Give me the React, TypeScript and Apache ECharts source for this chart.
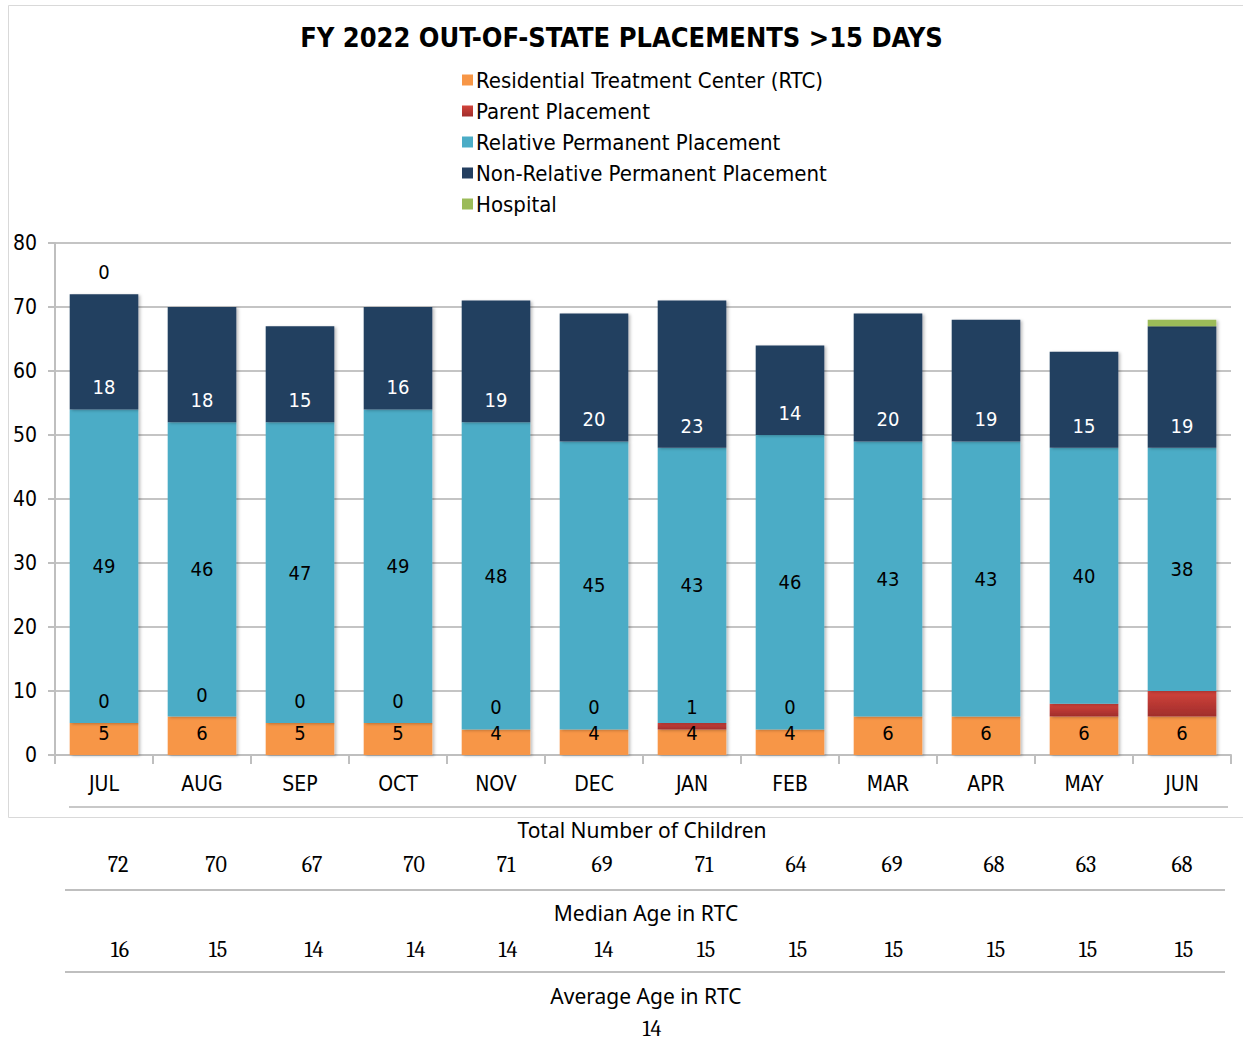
import React, { useEffect, useRef } from "react";
import * as echarts from "echarts";

const months = ["JUL", "AUG", "SEP", "OCT", "NOV", "DEC", "JAN", "FEB", "MAR", "APR", "MAY", "JUN"];
const rtc = [5, 6, 5, 5, 4, 4, 4, 4, 6, 6, 6, 6];
const parent = [0, 0, 0, 0, 0, 0, 1, 0, 0, 0, 2, 4];
const relative = [49, 46, 47, 49, 48, 45, 43, 46, 43, 43, 40, 38];
const nonRelative = [18, 18, 15, 16, 19, 20, 23, 14, 20, 19, 15, 19];
const hospital = [0, 0, 0, 0, 0, 0, 0, 0, 0, 0, 0, 1];
const parentLabelShown = [true, true, true, true, true, true, true, true, false, false, false, false];
const hospitalLabelShown = [true, false, false, false, false, false, false, false, false, false, false, false];
const totals = [72, 70, 67, 70, 71, 69, 71, 64, 69, 68, 63, 68];
const medianAge = [16, 15, 14, 14, 14, 14, 15, 15, 15, 15, 15, 15];
const averageAge = 14;
const yTicks = [0, 10, 20, 30, 40, 50, 60, 70, 80];

const SANS = "Tahoma, 'DejaVu Sans Condensed', 'DejaVu Sans', sans-serif";
const TSANS = "'Noto Sans', 'Open Sans', sans-serif";
const SERIF = "Cambria, 'DejaVu Serif', 'Liberation Serif', serif";

// horizontal layout of the table columns below the chart
const tableColX = [118, 216, 312, 414, 506, 602, 704, 796, 892, 994, 1086, 1182];

export default function App() {
  const ref = useRef<HTMLDivElement>(null);
  useEffect(() => {
    if (!ref.current) return;
    const chart = echarts.init(ref.current, null, { renderer: "svg" });
    const baseLabel = { fontSize: 20, fontFamily: SANS, color: "#000" };
    const shadow = { shadowColor: "rgba(0,0,0,0.25)", shadowBlur: 3, shadowOffsetX: 2, shadowOffsetY: 1 };
    const graphics: any[] = [
      { type: "rect", shape: { x: 8.5, y: 5.5, width: 1240, height: 812 }, style: { fill: "none", stroke: "#d9d9d9", lineWidth: 1 }, z: -10 },
      { type: "line", shape: { x1: 69, y1: 807, x2: 1228, y2: 807 }, style: { stroke: "#c8c8c8", lineWidth: 2 } },
      { type: "text", x: 642, y: 830, style: { text: "Total Number of Children", fontSize: 21, fontFamily: TSANS, fill: "#000", align: "center", verticalAlign: "middle" } },
      { type: "line", shape: { x1: 65, y1: 890, x2: 1225, y2: 890 }, style: { stroke: "#bfbfbf", lineWidth: 2 } },
      { type: "text", x: 646, y: 913, style: { text: "Median Age in RTC", fontSize: 21, fontFamily: TSANS, fill: "#000", align: "center", verticalAlign: "middle" } },
      { type: "line", shape: { x1: 65, y1: 972, x2: 1225, y2: 972 }, style: { stroke: "#bfbfbf", lineWidth: 2 } },
      { type: "text", x: 646, y: 996, style: { text: "Average Age in RTC", fontSize: 21, fontFamily: TSANS, fill: "#000", align: "center", verticalAlign: "middle" } },
      { type: "text", x: 652, y: 1029, style: { text: String(averageAge), fontSize: 22, fontFamily: SERIF, fill: "#000", align: "center", verticalAlign: "middle" } },
    ];
    totals.forEach((v, i) => {
      graphics.push({ type: "text", x: tableColX[i], y: 865, style: { text: String(v), fontSize: 22, fontFamily: SERIF, fill: "#000", align: "center", verticalAlign: "middle" } });
    });
    medianAge.forEach((v, i) => {
      graphics.push({ type: "text", x: tableColX[i] + 2, y: 950, style: { text: String(v), fontSize: 22, fontFamily: SERIF, fill: "#000", align: "center", verticalAlign: "middle" } });
    });

    chart.setOption({
      animation: false,
      backgroundColor: "#fff",
      title: {
        text: "FY 2022 OUT-OF-STATE PLACEMENTS >15 DAYS",
        left: "center",
        top: 19,
        textStyle: { fontSize: 27, fontWeight: "bold", fontFamily: SANS, color: "#000" },
      },
      legend: {
        orient: "vertical",
        left: 457,
        top: 64,
        itemWidth: 11,
        itemHeight: 11,
        itemGap: 9,
        icon: "rect",
        textStyle: { fontSize: 22, fontFamily: SANS, color: "#000", lineHeight: 22, padding: [0, 0, 0, -2] },
        data: ["Residential Treatment Center (RTC)", "Parent Placement", "Relative Permanent Placement", "Non-Relative Permanent Placement", "Hospital"],
      },
      grid: { left: 55, right: 12, top: 243, bottom: 287, containLabel: false },
      xAxis: {
        type: "category",
        data: months,
        axisLine: { lineStyle: { color: "#bfbfbf", width: 2 } },
        axisTick: { show: true, length: 9, lineStyle: { color: "#bfbfbf", width: 2 } },
        axisLabel: { fontSize: 21, fontFamily: SANS, color: "#000", margin: 18 },
      },
      yAxis: {
        type: "value",
        min: yTicks[0],
        max: yTicks[yTicks.length - 1],
        interval: 10,
        axisLine: { show: true, lineStyle: { color: "#bfbfbf", width: 2 } },
        axisTick: { show: true, length: 7, lineStyle: { color: "#bfbfbf", width: 2 } },
        axisLabel: { fontSize: 21, fontFamily: SANS, color: "#000", margin: 18 },
        splitLine: { lineStyle: { color: "#c4c4c4", width: 2 } },
      },
      graphic: graphics,
      series: [
        {
          name: "Residential Treatment Center (RTC)",
          type: "bar",
          stack: "a",
          barWidth: "70%",
          data: rtc,
          itemStyle: { color: "#F79646", ...shadow },
          label: { show: true, position: "insideBottom", distance: 12, ...baseLabel },
        },
        {
          name: "Parent Placement",
          type: "bar",
          stack: "a",
          data: parent.map((v, i) => ({ value: v, label: { show: parentLabelShown[i] } })),
          itemStyle: {
            color: new echarts.graphic.LinearGradient(0, 0, 0, 1, [
              { offset: 0, color: "#D2433B" },
              { offset: 1, color: "#A02D2B" },
            ]),
            ...shadow,
          },
          label: { show: true, position: "insideBottom", distance: 12, ...baseLabel },
        },
        {
          name: "Relative Permanent Placement",
          type: "bar",
          stack: "a",
          data: relative,
          itemStyle: { color: "#4BACC6", ...shadow },
          label: { show: true, position: "inside", ...baseLabel },
        },
        {
          name: "Non-Relative Permanent Placement",
          type: "bar",
          stack: "a",
          data: nonRelative,
          itemStyle: { color: "#243F60", ...shadow },
          label: { show: true, position: "insideBottom", distance: 12, ...baseLabel, color: "#fff" },
        },
        {
          name: "Hospital",
          type: "bar",
          stack: "a",
          data: hospital.map((v, i) => ({ value: v, label: { show: hospitalLabelShown[i] } })),
          itemStyle: { color: "#9BBB59", ...shadow },
          label: { show: true, position: "insideBottom", distance: 12, ...baseLabel },
        },
      ],
    });
    return () => chart.dispose();
  }, []);
  return <div ref={ref} style={{ position: "absolute", left: 0, top: 0, width: 1243, height: 1042 }} />;
}
